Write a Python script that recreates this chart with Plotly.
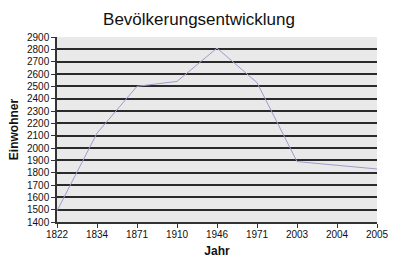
import plotly.graph_objects as go

years = ["1822", "1834", "1871", "1910", "1946", "1971", "2003", "2004", "2005"]
population = [1490, 2120, 2500, 2540, 2810, 2530, 1890, 1860, 1830]

fig = go.Figure()
fig.add_trace(go.Scatter(
    x=years, y=population, mode="lines",
    line=dict(color="#9c9ccc", width=1),
    showlegend=False,
))

font = "Liberation Sans, Arial, sans-serif"
fig.update_layout(
    width=400, height=269,
    margin=dict(l=57, r=23, t=37, b=47),
    paper_bgcolor="white",
    plot_bgcolor="#e9e9e9",
    title=dict(text="Bevölkerungsentwicklung", x=0.4975, xanchor="center",
               y=0.93, yanchor="middle",
               font=dict(family=font, size=17, color="#111")),
    font=dict(family=font, size=10, color="#111"),
)
fig.update_xaxes(
    type="category", range=[0, 8],
    showline=True, linecolor="#333", linewidth=1.5,
    ticks="outside", ticklen=4, tickcolor="#333",
    ticklabelstandoff=-2,
    showgrid=False, zeroline=False,
    tickfont=dict(size=10),
    title=dict(text="<b>Jahr</b>", font=dict(size=12), standoff=8),
)
fig.update_yaxes(
    range=[1400, 2900], dtick=100,
    showline=True, linecolor="#333", linewidth=1.5,
    ticks="outside", ticklen=4, tickcolor="#333",
    showgrid=True, gridcolor="#2a2a2a", gridwidth=1.5,
    zeroline=False,
    tickfont=dict(size=10),
    title=dict(text="<b>Einwohner</b>", font=dict(size=12), standoff=6),
)
fig.write_html("out.html")
